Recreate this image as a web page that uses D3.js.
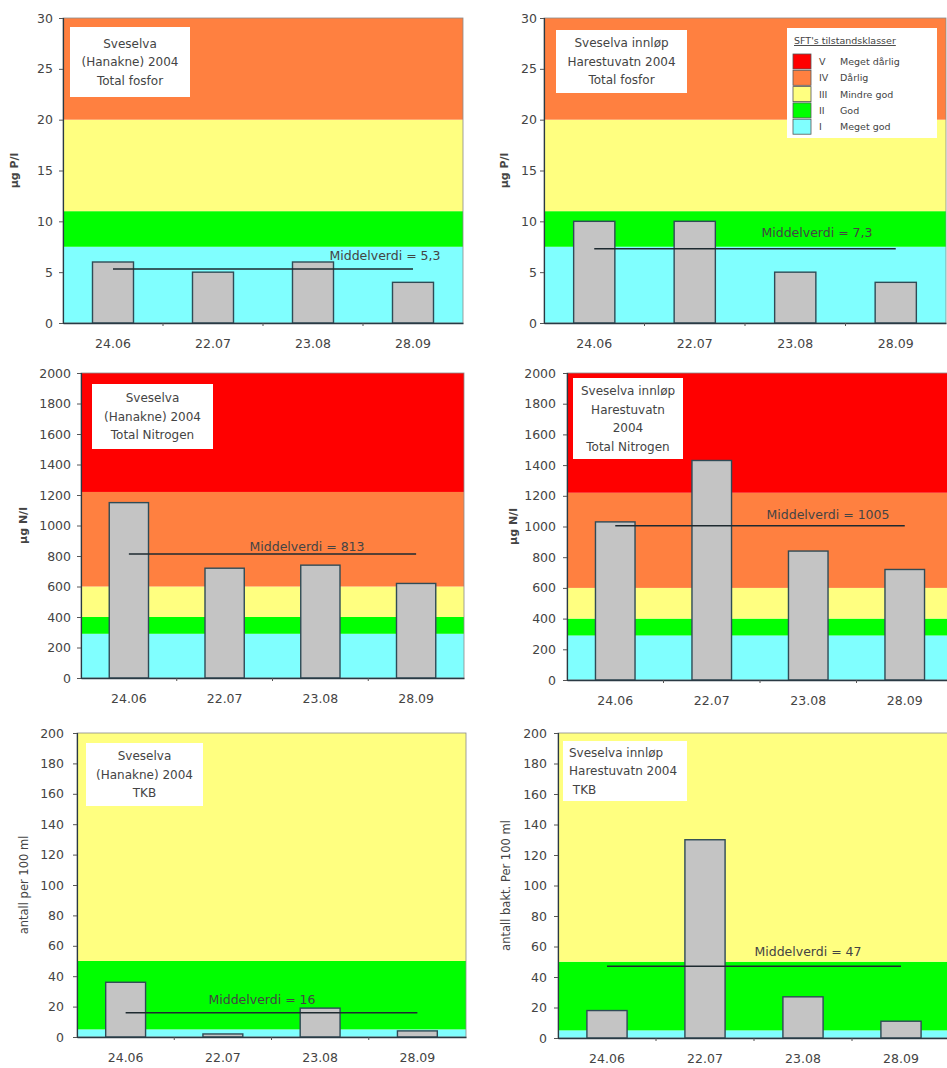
<!DOCTYPE html>
<html>
<head>
<meta charset="utf-8">
<script src="https://cdn.jsdelivr.net/npm/d3@7"></script>
<style>
  html, body { margin: 0; padding: 0; background: #fff; }
  svg { display: block; }
  text { font-family: "DejaVu Sans", Verdana, sans-serif; fill: #444; }
</style>
</head>
<body>
<svg id="chart" width="947" height="1068"></svg>
<script>
// ---------- DATA ----------
const categories = ["24.06", "22.07", "23.08", "28.09"];

const fosforHanakne = [6, 5, 6, 4];
const fosforInnlop = [10, 10, 5, 4];
const nitrogenHanakne = [1150, 720, 740, 620];
const nitrogenInnlop = [1030, 1430, 840, 720];
const tkbHanakne = [36, 2, 19, 4];
const tkbInnlop = [18, 130, 27, 11];

const meanValues = [5.3, 7.3, 813, 1005, 16, 47];
const meanLabels = ["Middelverdi = 5,3", "Middelverdi = 7,3", "Middelverdi = 813",
                    "Middelverdi = 1005", "Middelverdi = 16", "Middelverdi = 47"];

// class limits (lower, upper, class)
const fosforBands = [[0, 7.5, "I"], [7.5, 11, "II"], [11, 20, "III"], [20, 30, "IV"]];
const nitrogenBands = [[0, 290, "I"], [290, 400, "II"], [400, 600, "III"], [600, 1220, "IV"], [1220, 2000, "V"]];
const tkbBands = [[0, 5, "I"], [5, 50, "II"], [50, 200, "III"]];

const fosforTicks = [0, 5, 10, 15, 20, 25, 30];
const nitrogenTicks = [0, 200, 400, 600, 800, 1000, 1200, 1400, 1600, 1800, 2000];
const tkbTicks = [0, 20, 40, 60, 80, 100, 120, 140, 160, 180, 200];

const titleLines = [
  ["Sveselva", "(Hanakne) 2004", "Total fosfor"],
  ["Sveselva innløp", "Harestuvatn 2004", "Total fosfor"],
  ["Sveselva", "(Hanakne) 2004", "Total Nitrogen"],
  ["Sveselva innløp", "Harestuvatn", "2004", "Total Nitrogen"],
  ["Sveselva", "(Hanakne) 2004", "TKB"],
  ["Sveselva innløp", "Harestuvatn 2004", " TKB"]
];
const yTitles = ["µg P/l", "µg P/l", "µg N/l", "µg N/l", "antall per 100 ml", "antall bakt. Per 100 ml"];

const legendTitle = "SFT's tilstandsklasser";
const legendClasses = ["V", "IV", "III", "II", "I"];
const legendNames = ["Meget dårlig", "Dårlig", "Mindre god", "God", "Meget god"];

// ---------- STYLE ----------
const classColor = { "I": "#80ffff", "II": "#00ff00", "III": "#ffff80", "IV": "#ff8040", "V": "#ff0000" };

// ---------- LAYOUT ----------
const panels = [
  { values: fosforHanakne, bands: fosforBands, ticks: fosforTicks, max: 30,
    left: 63, right: 463, top: 18, bottom: 323, yTitleX: 14, tickRight: 53,
    box: [70, 27, 120, 70], boxAlign: "middle", labelX: 385, labelDy: 9, boldTitle: true },
  { values: fosforInnlop, bands: fosforBands, ticks: fosforTicks, max: 30,
    left: 544, right: 946, top: 18, bottom: 323, yTitleX: 504, tickRight: 537,
    box: [556, 30, 131, 63], boxAlign: "middle", labelX: 817, labelDy: 12, boldTitle: true, legend: true },
  { values: nitrogenHanakne, bands: nitrogenBands, ticks: nitrogenTicks, max: 2000,
    left: 81, right: 464, top: 373, bottom: 678, yTitleX: 23, tickRight: 71,
    box: [92, 384, 121, 65], boxAlign: "middle", labelX: 307, labelDy: 3, boldTitle: true },
  { values: nitrogenInnlop, bands: nitrogenBands, ticks: nitrogenTicks, max: 2000,
    left: 567, right: 953, top: 373, bottom: 680, yTitleX: 513, tickRight: 556,
    box: [573, 378, 110, 81], boxAlign: "middle", labelX: 828, labelDy: 7, boldTitle: true },
  { values: tkbHanakne, bands: tkbBands, ticks: tkbTicks, max: 200,
    left: 77, right: 466, top: 733, bottom: 1037, yTitleX: 24, tickRight: 64,
    box: [86, 743, 117, 63], boxAlign: "middle", labelX: 262, labelDy: 9, boldTitle: false },
  { values: tkbInnlop, bands: tkbBands, ticks: tkbTicks, max: 200,
    left: 558, right: 950, top: 733, bottom: 1038, yTitleX: 506, tickRight: 547,
    box: [563, 741, 124, 60], boxAlign: "start", labelX: 808, labelDy: 10, boldTitle: false }
];

const svg = d3.select("#chart");

panels.forEach((p, i) => {
  const g = svg.append("g");
  const x = d3.scaleBand().domain(categories).range([p.left, p.right]).paddingInner(0).paddingOuter(0);
  const y = d3.scaleLinear().domain([0, p.max]).range([p.bottom, p.top]);

  // class bands
  g.selectAll("rect.band").data(p.bands).join("rect")
    .attr("class", "band")
    .attr("x", p.left).attr("width", p.right - p.left)
    .attr("y", d => y(d[1])).attr("height", d => y(d[0]) - y(d[1]))
    .attr("fill", d => classColor[d[2]]);

  // plot border
  g.append("rect")
    .attr("x", p.left).attr("y", p.top)
    .attr("width", p.right - p.left).attr("height", p.bottom - p.top)
    .attr("fill", "none").attr("stroke", "#8a8a8a").attr("stroke-width", 0.8);

  // title box
  const [bx, by, bw, bh] = p.box;
  g.append("rect").attr("x", bx).attr("y", by).attr("width", bw).attr("height", bh).attr("fill", "#fff");
  const lines = titleLines[i];
  const lh = 18.5;
  const cy = by + bh / 2;
  lines.forEach((t, k) => {
    g.append("text")
      .attr("x", p.boxAlign === "middle" ? bx + bw / 2 : bx + 6)
      .attr("y", cy + (k - (lines.length - 1) / 2) * lh)
      .attr("dy", "0.36em")
      .attr("text-anchor", p.boxAlign)
      .style("font-size", "12px")
      .style("white-space", "pre")
      .text(t);
  });

  // bars
  const bw2 = x.bandwidth() * 0.41;
  g.selectAll("rect.bar").data(p.values).join("rect")
    .attr("class", "bar")
    .attr("x", (d, k) => x(categories[k]) + x.bandwidth() / 2 - bw2 / 2)
    .attr("width", bw2)
    .attr("y", d => y(d))
    .attr("height", d => y(0) - y(d))
    .attr("fill", "#c4c4c4")
    .attr("stroke", "#2f4b56").attr("stroke-width", 1.4);

  // mean line
  const xc0 = x(categories[0]) + x.bandwidth() / 2;
  const xc1 = x(categories[categories.length - 1]) + x.bandwidth() / 2;
  g.append("line")
    .attr("x1", xc0).attr("x2", xc1)
    .attr("y1", y(meanValues[i])).attr("y2", y(meanValues[i]))
    .attr("stroke", "#1e2a30").attr("stroke-width", 1.5);
  g.append("text")
    .attr("x", p.labelX).attr("y", y(meanValues[i]) - p.labelDy)
    .attr("text-anchor", "middle").style("font-size", "12.5px")
    .text(meanLabels[i]);

  // y axis
  const yAxis = g.append("g").attr("transform", `translate(${p.left},0)`)
    .call(d3.axisLeft(y).tickValues(p.ticks).tickSize(4).tickPadding(p.left - p.tickRight - 4).tickFormat(d3.format("d")));
  yAxis.select(".domain").attr("stroke", "#2a3a44").attr("stroke-width", 1.2);
  yAxis.selectAll(".tick line").attr("stroke", "#555");
  yAxis.selectAll(".tick text").style("font-size", "12.5px").attr("fill", "#555")
    .style("font-family", "'DejaVu Sans', sans-serif");

  // x axis
  const xAxis = g.append("g").attr("transform", `translate(0,${p.bottom})`)
    .call(d3.axisBottom(x).tickSize(0).tickPadding(16));
  xAxis.select(".domain").attr("stroke", "#2a3a44").attr("stroke-width", 1.4);
  xAxis.selectAll(".tick text").style("font-size", "12.5px").attr("fill", "#555")
    .style("font-family", "'DejaVu Sans', sans-serif");
  // tick marks between categories
  g.selectAll("line.sep").data(categories.slice(1)).join("line")
    .attr("class", "sep")
    .attr("x1", d => x(d)).attr("x2", d => x(d))
    .attr("y1", p.bottom).attr("y2", p.bottom + 3)
    .attr("stroke", "#555");

  // y title
  g.append("text")
    .attr("transform", `translate(${p.yTitleX},${(p.top + p.bottom) / 2}) rotate(-90)`)
    .attr("text-anchor", "middle")
    .attr("dy", "0.35em")
    .style("font-size", p.boldTitle ? "11px" : "11.5px")
    .style("font-weight", p.boldTitle ? "bold" : "normal")
    .attr("fill", p.boldTitle ? "#222" : "#555")
    .text(yTitles[i]);

  // legend
  if (p.legend) {
    const lg = g.append("g");
    lg.append("rect").attr("x", 787).attr("y", 28).attr("width", 150).attr("height", 110).attr("fill", "#fff");
    lg.append("text").attr("x", 794).attr("y", 44).style("font-size", "9.5px")
      .style("text-decoration", "underline").attr("fill", "#3a4a8a").text(legendTitle);
    legendClasses.forEach((c, k) => {
      const yy = 54 + k * 16.3;
      lg.append("rect").attr("x", 793).attr("y", yy).attr("width", 18).attr("height", 15)
        .attr("fill", classColor[c]).attr("stroke", "#555").attr("stroke-width", 0.8);
      lg.append("text").attr("x", 819).attr("y", yy + 11).style("font-size", "9.5px").text(c);
      lg.append("text").attr("x", 840).attr("y", yy + 11).style("font-size", "9.5px").text(legendNames[k]);
    });
  }
});
</script>
</body>
</html>
